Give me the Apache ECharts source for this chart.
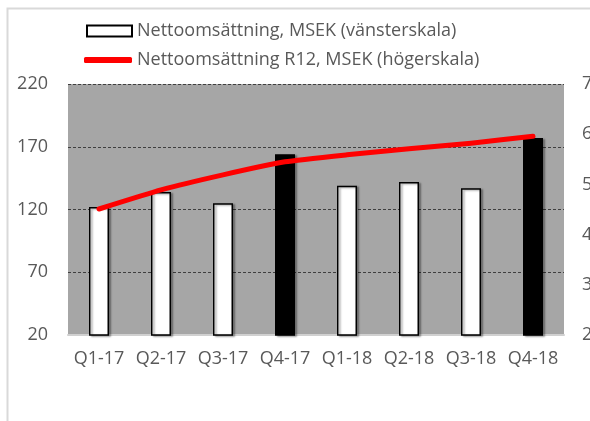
<!DOCTYPE html>
<html>
<head>
<meta charset="utf-8">
<script src="https://cdn.jsdelivr.net/npm/echarts@6/dist/echarts.min.js"></script>
<style>html,body{margin:0;padding:0;background:#fff;}#c{width:590px;height:421px;}</style>
</head>
<body>
<div id="c"></div>
<script>
const categories = ['Q1-17','Q2-17','Q3-17','Q4-17','Q1-18','Q2-18','Q3-18','Q4-18'];
const netSales = [122, 134, 125, 164, 139, 142, 137, 177];
const netSalesR12 = [451, 489, 519, 545, 559, 571, 582, 596];
const leftTicks = {min: 20, max: 220, interval: 50};
const rightTicks = {min: 200, max: 700, interval: 100};
const barName = 'Nettoomsättning, MSEK (vänsterskala)';
const lineName = 'Nettoomsättning R12, MSEK (högerskala)';

const FONT = 'Open Sans';
const TXT = '#595959';
const legendText = {fontFamily: FONT, fontSize: 18, color: TXT, lineHeight: 22};
const chart = echarts.init(document.getElementById('c'), null, {renderer: 'canvas'});
chart.setOption({
  animation: false,
  backgroundColor: '#fff',
  textStyle: {fontFamily: FONT},
  graphic: [{
    type: 'rect', silent: true, z: -10,
    shape: {x: 7.5, y: 8.5, width: 700, height: 500},
    style: {fill: 'none', stroke: '#d9d9d9', lineWidth: 2}
  }],
  legend: [{
    left: 86, top: 20, padding: 0,
    itemWidth: 45, itemHeight: 11,
    textStyle: legendText,
    data: [{name: barName, icon: 'rect', itemStyle: {color: '#fff', borderColor: '#000', borderWidth: 2}}]
  }, {
    left: 84, top: 49, padding: 0,
    itemWidth: 48, itemHeight: 6,
    textStyle: legendText,
    data: [{name: lineName, icon: 'roundRect', itemStyle: {color: '#ff0000', borderWidth: 0}}]
  }],
  grid: {left: 68, right: 26, top: 84, bottom: 86, show: true, backgroundColor: '#a6a6a6', borderWidth: 0, outerBoundsMode: 'none', containLabel: false},
  xAxis: {
    type: 'category', data: categories,
    axisLine: {lineStyle: {color: '#d0d0d0', width: 2}},
    axisTick: {show: false},
    axisLabel: {color: TXT, fontSize: 18, fontFamily: FONT, margin: 15, interval: 0}
  },
  yAxis: [{
    type: 'value', min: leftTicks.min, max: leftTicks.max, interval: leftTicks.interval,
    axisLine: {show: false}, axisTick: {show: false},
    axisLabel: {color: TXT, fontSize: 18, fontFamily: FONT, margin: 20},
    splitLine: {show: true, lineStyle: {color: '#3f3f3f', type: [3, 2], width: 1}}
  }, {
    type: 'value', min: rightTicks.min, max: rightTicks.max, interval: rightTicks.interval,
    axisLine: {show: false}, axisTick: {show: false},
    axisLabel: {color: TXT, fontSize: 18, fontFamily: FONT, margin: 18},
    splitLine: {show: false}
  }],
  series: [{
    name: barName, type: 'bar', yAxisIndex: 0, barWidth: 20,
    data: netSales.map((v, i) => ({
      value: v,
      itemStyle: categories[i].startsWith('Q4')
        ? {color: '#000', borderColor: '#000', borderWidth: 1.5, shadowColor: 'rgba(0,0,0,0.35)', shadowOffsetX: 2, shadowOffsetY: 1, shadowBlur: 2}
        : {color: '#fff', borderColor: '#000', borderWidth: 1.5, shadowColor: 'rgba(0,0,0,0.35)', shadowOffsetX: 2, shadowOffsetY: 1, shadowBlur: 2}
    })),
    itemStyle: {color: '#fff', borderColor: '#000', borderWidth: 2}
  }, {
    name: lineName, type: 'line', yAxisIndex: 1,
    data: netSalesR12, symbol: 'none', smooth: 0.15,
    lineStyle: {color: '#ff0000', width: 5, cap: 'round', join: 'round'},
    itemStyle: {color: '#ff0000'}
  }]
});
</script>
</body>
</html>
